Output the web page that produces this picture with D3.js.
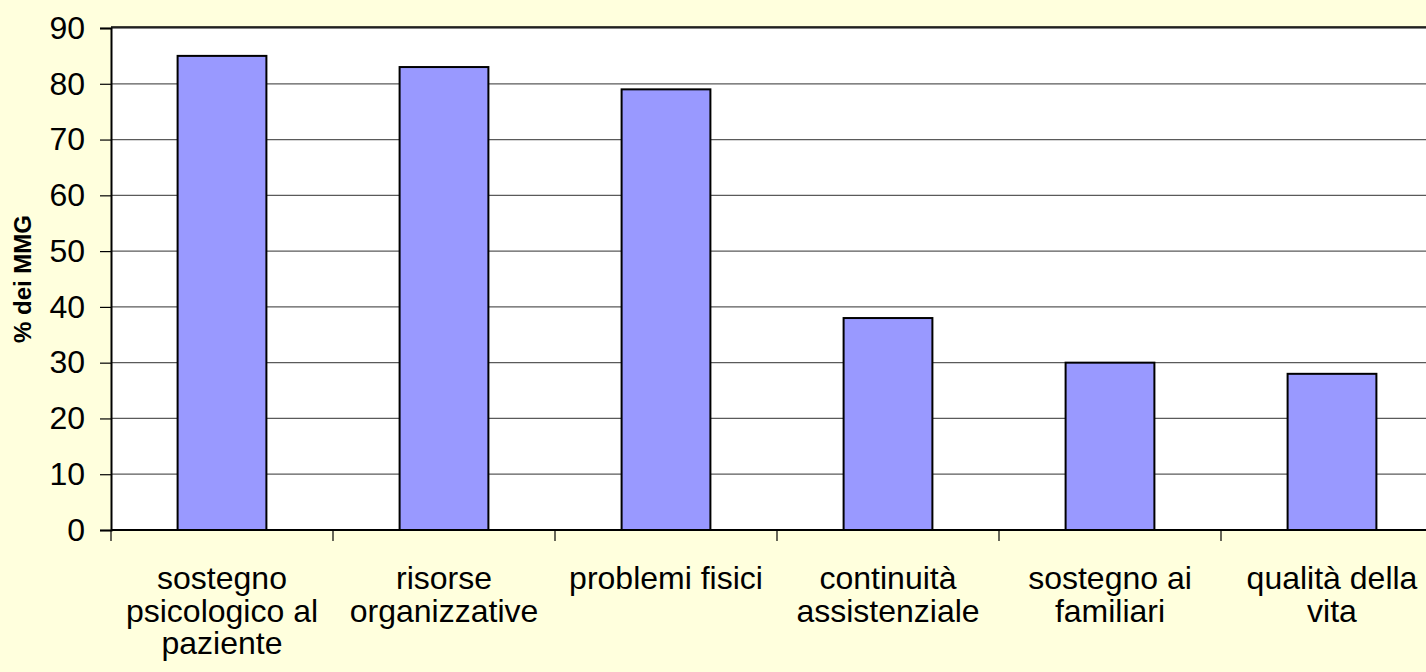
<!DOCTYPE html>
<html>
<head>
<meta charset="utf-8">
<script src="https://cdn.jsdelivr.net/npm/d3@7"></script>
<style>
  body { margin: 0; background: #FFFFDD; overflow: hidden; }
  text { font-family: "Liberation Sans", Arial, sans-serif; fill: #000; }
</style>
</head>
<body>
<div id="chart"></div>
<script>
// data
var categories = ["sostegno psicologico al paziente", "risorse organizzative", "problemi fisici",
                  "continuità assistenziale", "sostegno ai familiari", "qualità della vita"];
var labelLines = [["sostegno", "psicologico al", "paziente"],
                  ["risorse", "organizzative"],
                  ["problemi fisici"],
                  ["continuità", "assistenziale"],
                  ["sostegno ai", "familiari"],
                  ["qualità della", "vita"]];
var values = [85, 83, 79, 38, 30, 28];
var yTicks = [0, 10, 20, 30, 40, 50, 60, 70, 80, 90];

var W = 1426, H = 672;
var margin = {top: 28, left: 111, bottom: 142};
var plotW = 1332, plotH = H - margin.top - margin.bottom;

var svg = d3.select("#chart").append("svg")
    .attr("width", W)
    .attr("height", H);

svg.append("rect")
    .attr("width", W).attr("height", H)
    .attr("fill", "#FFFFDD");

var g = svg.append("g")
    .attr("transform", "translate(" + margin.left + "," + margin.top + ")");

var x = d3.scaleBand().domain(categories).range([0, plotW]).paddingInner(0.6).paddingOuter(0.3);
var xb = d3.scaleBand().domain(categories).range([0, plotW]);
var y = d3.scaleLinear().domain([0, 90]).range([plotH, 0]);

// plot area
g.append("rect")
    .attr("x", 0).attr("y", -1)
    .attr("width", plotW).attr("height", plotH + 1)
    .attr("fill", "#fff");

// gridlines
g.selectAll(".grid")
  .data(yTicks.filter(function(d){ return d > 0; }))
  .enter().append("line")
    .attr("x1", 0).attr("x2", plotW)
    .attr("y1", function(d){ return y(d); })
    .attr("y2", function(d){ return y(d); })
    .attr("stroke", "#5a5a5a")
    .attr("stroke-width", 1.3);

// top border
g.append("line")
    .attr("x1", 0).attr("x2", plotW)
    .attr("y1", -1).attr("y2", -1)
    .attr("stroke", "#000").attr("stroke-width", 1.5);

// bars
g.selectAll(".bar")
  .data(values)
  .enter().append("rect")
    .attr("x", function(d, i){ return x(categories[i]); })
    .attr("width", x.bandwidth())
    .attr("y", function(d){ return y(d); })
    .attr("height", function(d){ return plotH - y(d); })
    .attr("fill", "#9999FF")
    .attr("stroke", "#000")
    .attr("stroke-width", 2);

// y axis
var yAxis = g.append("g")
    .call(d3.axisLeft(y).tickValues(yTicks).tickSize(11).tickPadding(15));
yAxis.select(".domain").attr("stroke", "#000").attr("stroke-width", 2);
yAxis.selectAll(".tick line").attr("stroke", "#000").attr("stroke-width", 1.2);
yAxis.selectAll(".tick text")
    .attr("font-size", "32px")
    .attr("font-family", "'Liberation Sans', Arial, sans-serif");

// x axis line and ticks at band boundaries
var bounds = categories.map(function(c){ return xb(c); });
g.append("line")
    .attr("x1", 0).attr("x2", plotW)
    .attr("y1", plotH).attr("y2", plotH)
    .attr("stroke", "#000").attr("stroke-width", 2);
g.selectAll(".xtick")
  .data(bounds)
  .enter().append("line")
    .attr("x1", function(d){ return d; })
    .attr("x2", function(d){ return d; })
    .attr("y1", plotH).attr("y2", plotH + 11)
    .attr("stroke", "#000").attr("stroke-width", 1.2);

// category labels
var labels = g.selectAll(".xlab")
  .data(categories)
  .enter().append("text")
    .attr("text-anchor", "middle")
    .attr("font-size", "32px")
    .attr("transform", function(c){
      return "translate(" + (xb(c) + xb.bandwidth() / 2) + "," + (plotH + 59) + ")";
    });
labels.selectAll("tspan")
  .data(function(c, i){ return labelLines[i]; })
  .enter().append("tspan")
    .attr("x", 0)
    .attr("y", function(d, j){ return j * 32.5; })
    .text(function(d){ return d; });

// y axis title
svg.append("text")
    .attr("transform", "translate(31," + (margin.top + plotH / 2) + ") rotate(-90)")
    .attr("text-anchor", "middle")
    .attr("font-size", "24px")
    .attr("font-weight", "bold")
    .text("% dei MMG");
</script>
</body>
</html>
